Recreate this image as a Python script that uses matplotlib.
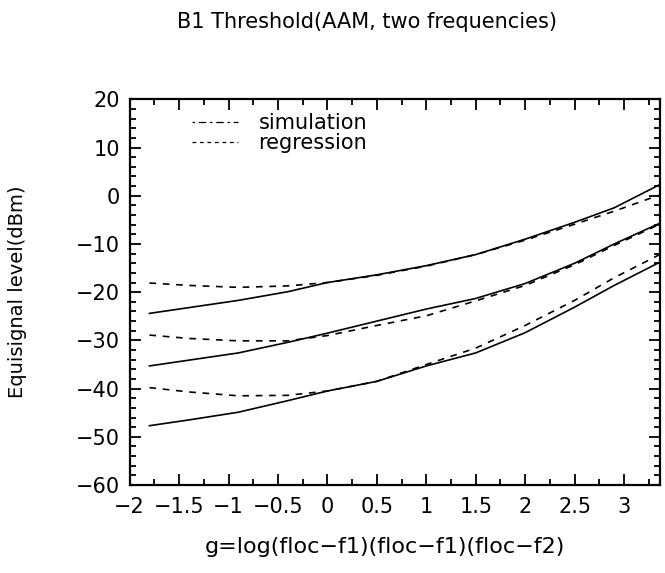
import numpy as np
import matplotlib
matplotlib.use('Agg')
import matplotlib.pyplot as plt
from matplotlib.lines import Line2D
from matplotlib.ticker import MultipleLocator

plt.rcParams['font.family'] = ['DejaVu Sans']

# g values where the curves were read
g = [-1.8, -1.4, -0.9, -0.4, 0.0, 0.5, 1.0, 1.5, 2.0, 2.5, 2.9, 3.35]

# simulation (solid) and regression (dashed) for the three threshold families
sim_top = [-24.4, -23.2, -21.7, -19.9, -18.0, -16.4, -14.5, -12.2, -9.0, -5.5, -2.5, 2.2]
reg_top = [-18.1, -18.6, -19.0, -18.7, -18.0, -16.5, -14.6, -12.2, -9.2, -5.9, -3.2, 0.1]
sim_mid = [-35.3, -34.1, -32.6, -30.4, -28.5, -26.0, -23.5, -21.3, -18.2, -14.0, -10.0, -5.8]
reg_mid = [-28.9, -29.6, -30.1, -30.1, -29.0, -26.9, -24.9, -21.8, -18.6, -14.3, -10.3, -6.0]
sim_low = [-47.7, -46.5, -44.9, -42.5, -40.5, -38.5, -35.3, -32.6, -28.4, -23.1, -18.6, -13.9]
reg_low = [-39.8, -40.7, -41.5, -41.4, -40.5, -38.5, -35.0, -31.6, -26.9, -21.7, -17.0, -12.3]

fig = plt.figure(figsize=(6.65, 5.73), dpi=100)
ax = fig.add_axes([0.195, 0.1536, 0.797, 0.673])

for s in [sim_top, sim_mid, sim_low]:
    ax.plot(g, s, color='black', lw=1.2, linestyle='-')
for r in [reg_top, reg_mid, reg_low]:
    ax.plot(g, r, color='black', lw=1.2, linestyle=(0, (4, 4)))

ax.set_xlim(-2, 3.36)
ax.set_ylim(-60, 20)
ax.xaxis.set_major_locator(MultipleLocator(0.5))
ax.xaxis.set_minor_locator(MultipleLocator(0.25))
ax.yaxis.set_major_locator(MultipleLocator(10))
ax.yaxis.set_minor_locator(MultipleLocator(2))
ax.xaxis.set_major_formatter(plt.FuncFormatter(lambda v, p: ('%g' % v).replace('-', '\u2212')))
ax.tick_params(which='both', direction='in', top=True, right=True, width=1.3, labelsize=15)
ax.tick_params(which='major', length=8)
ax.tick_params(which='minor', length=4)
ax.tick_params(axis='x', pad=9)
ax.tick_params(axis='y', pad=7)
for sp in ax.spines.values():
    sp.set_linewidth(1.6)

ax.set_xlabel('g=log(floc\u2212f1)(floc\u2212f1)(floc\u2212f2)', fontsize=16, va='center')
ax.xaxis.set_label_coords(0.481, -0.16)
ax.set_ylabel('Equisignal level(dBm)', fontsize=14, va='center')
ax.yaxis.set_label_coords(-0.211, 0.5)
fig.text(0.552, 0.962, 'B1 Threshold(AAM, two frequencies)', fontsize=15,
         ha='center', va='center')

handles = [Line2D([], [], color='black', lw=0.9, linestyle=(0, (2, 3, 6, 3))),
           Line2D([], [], color='black', lw=0.9, linestyle=(0, (3, 3)))]
ax.legend(handles, ['simulation', 'regression'], loc='upper left',
          bbox_to_anchor=(0.117, 0.965), frameon=False, fontsize=15,
          handlelength=2.2, handletextpad=1.0, labelspacing=0.0,
          borderpad=0, borderaxespad=0)

fig.savefig('out.png', dpi=100)
